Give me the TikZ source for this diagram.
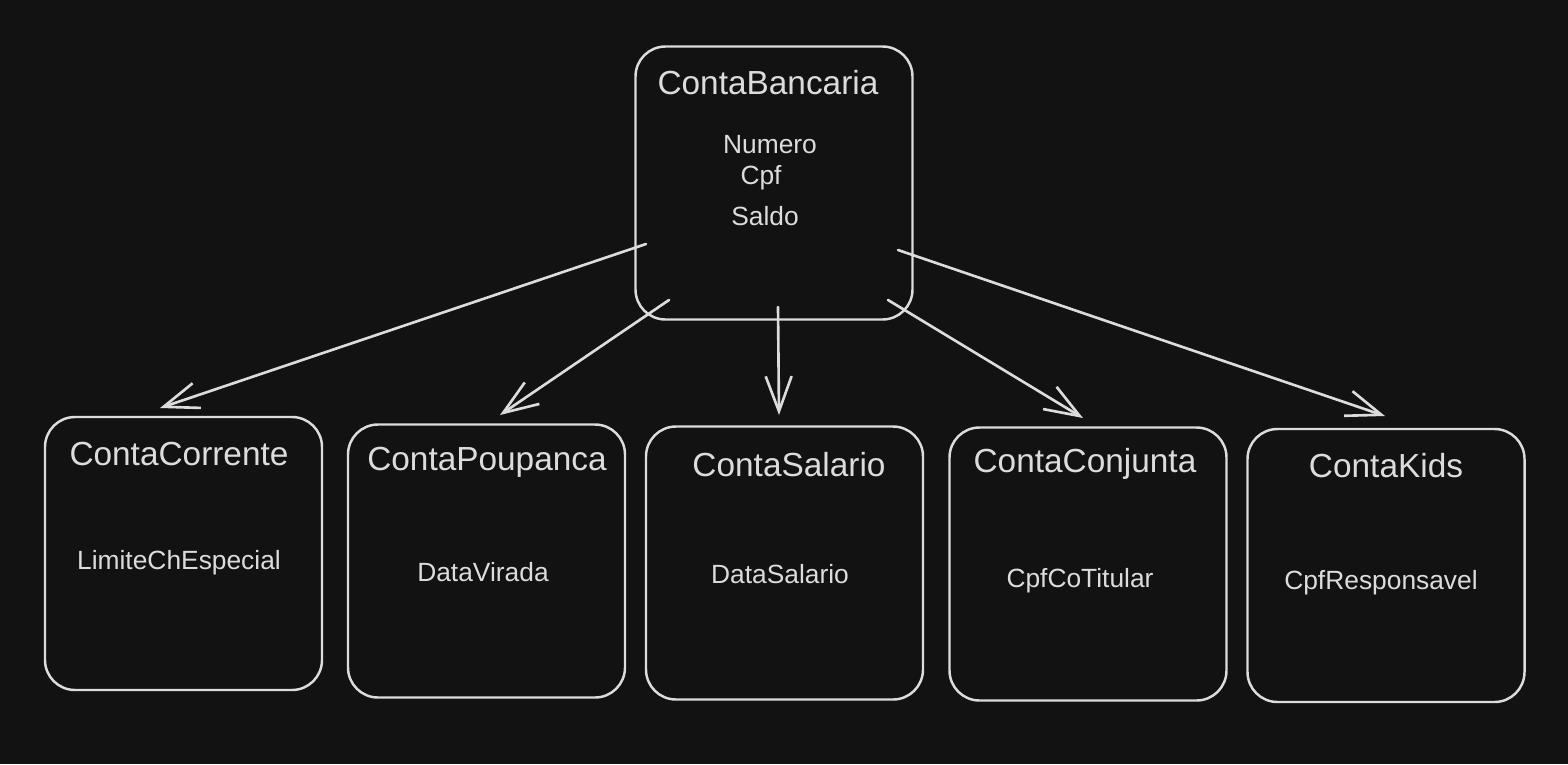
\documentclass[tikz,border=0pt]{standalone}
\usepackage{fontspec}
\setmainfont{Liberation Sans}
\usetikzlibrary{calc}
\usetikzlibrary{arrows.meta}
\definecolor{fondo}{HTML}{121212}
\definecolor{giz}{HTML}{DCDCDC}
\begin{document}
\begin{tikzpicture}[x=0.2mm,y=-0.2mm,
  conta/.style={draw=giz,line width=1.4pt,rounded corners=0.6cm,minimum width=5.54cm,minimum height=5.46cm},
  titulo/.style={text=giz,font=\fontsize{19}{23}\selectfont,inner sep=0pt},
  campo/.style={text=giz,font=\fontsize{15}{18}\selectfont,inner sep=0pt},
  heranca/.style={draw=giz,line width=1.5pt,line cap=round,-{Straight Barb[length=0.7cm,width=0.52cm,line width=1.5pt]}}]
 \fill[fondo] (0,0) rectangle (1568,764);
 \useasboundingbox (0,0) rectangle (1568,764);
 % classe base
 \node[conta] (banc) at (774,183) {};
 \node[titulo] (bancT) at (768,83) {ContaBancaria};
 \node[campo] (num) at (770,145) {Numero};
 \node[campo] (cpf) at (761,178) {Cpf};
 \node[campo] (sal) at (765,216) {Saldo};
 % subclasses
 \node[conta] (corr) at (183.5,553.5) {};
 \node[titulo] at (179,454) {ContaCorrente};
 \node[campo] at (179,563) {LimiteChEspecial};
 \node[conta] (poup) at (486.5,561) {};
 \node[titulo] at (487,462) {ContaPoupanca};
 \node[campo] at (483,572) {DataVirada};
 \node[conta] (slr) at (784.5,563) {};
 \node[titulo] at (789,465) {ContaSalario};
 \node[campo] at (780,574) {DataSalario};
 \node[conta] (conj) at (1088,564) {};
 \node[titulo] at (1085,464) {ContaConjunta};
 \node[campo] at (1080,581) {CpfCoTitular};
 \node[conta] (kids) at (1386,565.5) {};
 \node[titulo] at (1386,466) {ContaKids};
 \node[campo] at (1381,583) {CpfResponsavel};
 % setas
 \coordinate (s1) at (646,244); \coordinate (e1) at (160,408);
 \coordinate (s2) at (669,300); \coordinate (e2) at (500,415);
 \coordinate (s3) at (778,307); \coordinate (e3) at (779,415);
 \coordinate (s4) at (888,300); \coordinate (e4) at (1083,418);
 \coordinate (s5) at (898,250); \coordinate (e5) at (1385,416);
 \foreach \i in {1,...,5}
  \draw[heranca] (s\i)--(e\i);
\end{tikzpicture}
\end{document}
